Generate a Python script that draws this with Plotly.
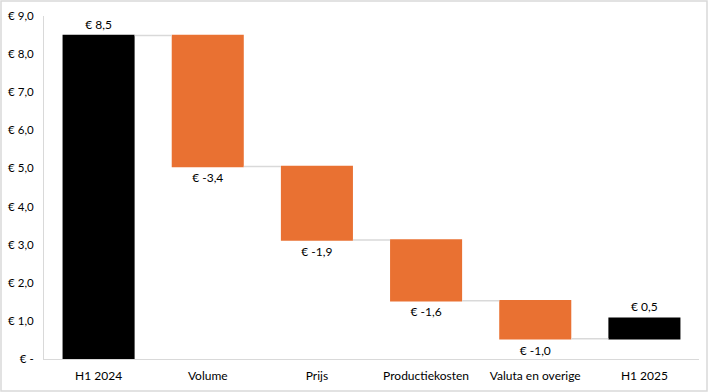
import plotly.graph_objects as go

categories = ["H1 2024", "Volume", "Prijs", "Productiekosten", "Valuta en overige", "H1 2025"]
values = [8.49, -3.44, -1.93, -1.59, -1.00, 0.54]
measures = ["absolute", "relative", "relative", "relative", "relative", "relative"]
labels = ["€ 8,5", "€ -3,4", "€ -1,9", "€ -1,6", "€ -1,0", "€ 0,5"]
tick_vals = [0, 1, 2, 3, 4, 5, 6, 7, 8, 9]
tick_text = ["€ -", "€ 1,0", "€ 2,0", "€ 3,0", "€ 4,0", "€ 5,0", "€ 6,0", "€ 7,0", "€ 8,0", "€ 9,0"]

BLACK = "#000000"
ORANGE = "#E97132"
GREY = "#D9D9D9"
FONT = "Lato"

fig = go.Figure(go.Waterfall(
    x=categories,
    y=values,
    measure=measures,
    text=labels,
    textposition="outside",
    textfont=dict(family=FONT, size=12, color="#000000"),
    cliponaxis=False,
    increasing=dict(marker=dict(color=BLACK, line=dict(width=0))),
    decreasing=dict(marker=dict(color=ORANGE, line=dict(width=0))),
    totals=dict(marker=dict(color=BLACK, line=dict(width=0))),
    connector=dict(line=dict(color=GREY, width=1.5)),
    width=0.66,
    hoverinfo="skip",
))

L, R, T, B = 44, 9, 16, 33
W, H = 708, 392
pw, ph = W - L - R, H - T - B

fig.update_layout(
    width=W, height=H,
    margin=dict(l=L, r=R, t=T, b=B, autoexpand=False),
    paper_bgcolor="white",
    plot_bgcolor="white",
    showlegend=False,
    font=dict(family=FONT, size=12, color="#262626"),
    xaxis=dict(
        showgrid=False, showline=True, linecolor=GREY, linewidth=1,
        ticks="", automargin=False,
        tickfont=dict(family=FONT, size=12, color="#000000"),
        ticklabelstandoff=6,
    ),
    yaxis=dict(
        range=[0, 9], showgrid=False, zeroline=False, showline=True,
        linecolor=GREY, linewidth=1, ticks="", automargin=False,
        tickvals=tick_vals, ticktext=tick_text,
        tickfont=dict(family=FONT, size=11.5, color="#000000"),
        ticklabelstandoff=7,
    ),
    shapes=[dict(
        type="rect", xref="paper", yref="paper",
        x0=(1 - L) / pw, x1=(W - 1 - L) / pw,
        y0=-(H - 1 - T - ph) / ph, y1=1 + (T - 1) / ph,
        line=dict(color=GREY, width=1.5), fillcolor="rgba(0,0,0,0)",
        layer="below",
    )],
)

fig.write_html(
    "out.html",
    config={"displayModeBar": False, "staticPlot": True},
    post_script="document.body.style.margin='0';document.body.style.overflow='hidden';",
)
